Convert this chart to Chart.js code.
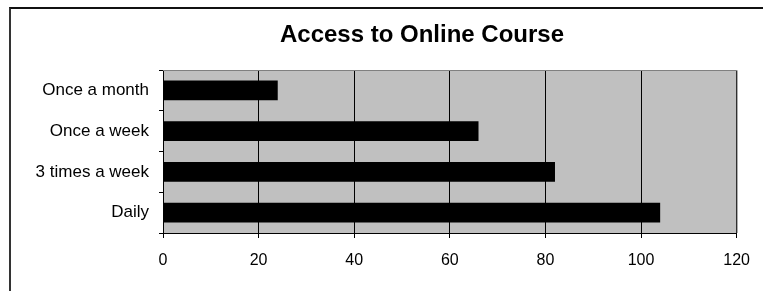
<!DOCTYPE html>
<html>
<head>
<meta charset="utf-8">
<script src="https://cdn.jsdelivr.net/npm/chart.js@4"></script>
<style>
    body { margin: 0; background: #fff; overflow: hidden; }
    #marco {
        position: absolute; left: 9px; top: 7px; width: 800px; height: 400px;
        border-left: 2px solid #333; border-top: 2px solid #111;
    }
    #apiChart1 { position: absolute; left: 0; top: 0; }
</style>
</head>
<body>
<div id="marco"></div>
<canvas id="apiChart1" width="763" height="291"></canvas>
<script>
// Datos del grafico
const titulo = 'Access to Online Course';
const categorias = ['Once a month', 'Once a week', '3 times a week', 'Daily'];
const accesos = [24, 66, 82, 104];
const ticks_x = [0, 20, 40, 60, 80, 100, 120];

const fuente = 'Liberation Sans, Arial, sans-serif';

// Fondo gris del area del grafico, borde superior/derecho y titulo
const fondo_plot = {
    id: 'fondo_plot',
    beforeDraw(chart) {
        const { ctx, chartArea } = chart;
        ctx.save();
        ctx.fillStyle = '#c0c0c0';
        ctx.fillRect(chartArea.left, chartArea.top, chartArea.right - chartArea.left, chartArea.bottom - chartArea.top);
        ctx.restore();
    },
    afterDraw(chart) {
        const { ctx, chartArea } = chart;
        ctx.save();
        ctx.strokeStyle = '#808080';
        ctx.lineWidth = 1;
        ctx.beginPath();
        ctx.moveTo(chartArea.left, chartArea.top + 0.5);
        ctx.lineTo(chartArea.right + 0.5, chartArea.top + 0.5);
        ctx.lineTo(chartArea.right + 0.5, chartArea.bottom);
        ctx.stroke();

        // titulo centrado sobre el marco, no sobre el area del grafico
        ctx.fillStyle = '#000';
        ctx.font = 'bold 24px ' + fuente;
        ctx.textAlign = 'center';
        ctx.textBaseline = 'alphabetic';
        ctx.fillText(titulo, 422, 42);
        ctx.restore();
    }
};

const ctx_accesos = document.getElementById('apiChart1').getContext('2d');
const accesosChart = new Chart(ctx_accesos, {
    type: 'bar',
    data: {
        labels: categorias,
        datasets: [{
            label: 'Access',
            data: accesos,
            backgroundColor: '#000',
            borderWidth: 0,
            barPercentage: 0.48,
            categoryPercentage: 1
        }]
    },
    options: {
        indexAxis: 'y',
        responsive: false,
        animation: false,
        layout: { padding: { left: 10, right: 26, top: 70, bottom: 0 } },
        plugins: {
            legend: { display: false },
            tooltip: { enabled: false },
            title: { display: false }
        },
        scales: {
            x: {
                min: 0,
                max: 120,
                afterBuildTicks: (scale) => { scale.ticks = ticks_x.map(v => ({ value: v })); },
                afterFit: (scale) => { scale.height = 58; },
                grid: { color: '#000', lineWidth: 1, tickLength: 5 },
                border: { display: true, color: '#000', width: 1 },
                ticks: {
                    color: '#000',
                    padding: 13,
                    font: { family: fuente, size: 16 }
                }
            },
            y: {
                afterFit: (scale) => { scale.width = 153; },
                grid: { drawOnChartArea: false, color: '#000', tickLength: 4 },
                border: { display: true, color: '#000', width: 1 },
                ticks: {
                    color: '#000',
                    padding: 10,
                    font: { family: fuente, size: 17 }
                }
            }
        }
    },
    plugins: [fondo_plot]
});
</script>
</body>
</html>
